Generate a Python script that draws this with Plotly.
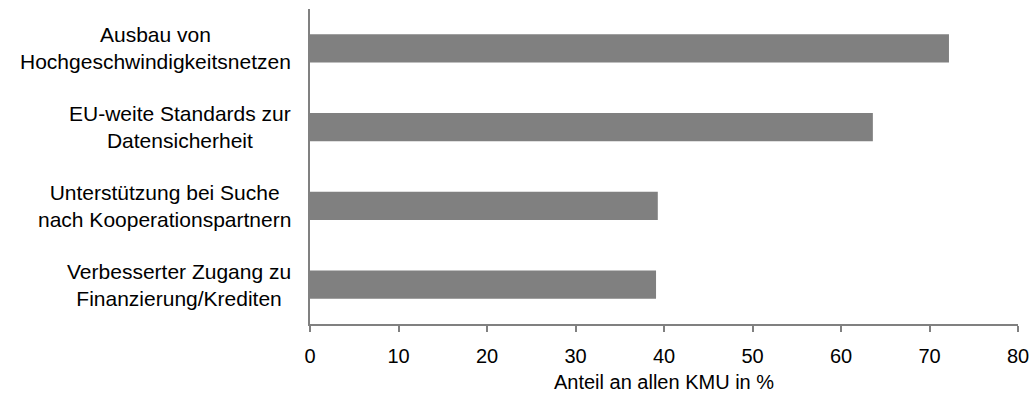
import plotly.graph_objects as go

categories = [
    "Ausbau von<br>Hochgeschwindigkeitsnetzen",
    "EU-weite Standards zur<br>Datensicherheit",
    "Unterstützung bei Suche<br>nach Kooperationspartnern",
    "Verbesserter Zugang zu<br>Finanzierung/Krediten",
]
values = [72.2, 63.6, 39.3, 39.1]
x_ticks = [0, 10, 20, 30, 40, 50, 60, 70, 80]
x_title = "Anteil an allen KMU in %"

FONT = "Liberation Sans, Arial, sans-serif"

fig = go.Figure(
    go.Bar(
        y=categories,
        x=values,
        orientation="h",
        marker=dict(color="#808080", line=dict(width=0)),
        width=0.36,
        hoverinfo="skip",
    )
)

for cat in categories:
    fig.add_annotation(
        x=0, xref="paper", xshift=-17, xanchor="right",
        y=cat, yref="y", yanchor="middle",
        text=cat, showarrow=False, align="center",
        font=dict(family=FONT, size=21, color="black"),
    )

fig.update_layout(
    width=1035, height=394,
    margin=dict(l=310, r=17, t=9, b=70),
    paper_bgcolor="white", plot_bgcolor="white",
    showlegend=False,
    font=dict(family=FONT, size=20, color="black"),
)
fig.update_xaxes(
    range=[0, 80], tickvals=x_ticks, ticktext=[str(t) for t in x_ticks],
    showgrid=False, zeroline=False,
    showline=True, linecolor="#808080", linewidth=1.5,
    ticks="outside", ticklen=6, tickcolor="#808080", tickwidth=1.5,
    ticklabelstandoff=7,
    tickfont=dict(family=FONT, size=20, color="black"),
    title=dict(text=x_title, standoff=9, font=dict(family=FONT, size=20, color="black")),
    automargin=False,
)
fig.update_yaxes(
    autorange="reversed", showticklabels=False,
    showgrid=False, zeroline=False,
    showline=True, linecolor="#808080", linewidth=1.5,
    ticks="", automargin=False,
)

fig.write_html(
    "out.html",
    config={"displayModeBar": False},
    post_script="document.body.style.margin='0';document.body.style.padding='0';",
)
